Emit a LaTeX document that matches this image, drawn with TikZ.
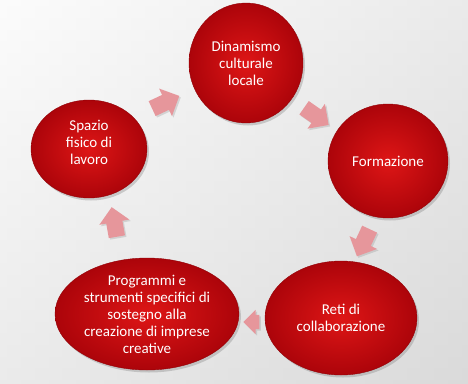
\documentclass[tikz,border=0pt]{standalone}
\usepackage{fontspec}
\setmainfont{Carlito}
\usetikzlibrary{shapes.geometric,shapes.arrows,shadows}
\definecolor{bgA}{RGB}{248,248,248}
\definecolor{bgB}{RGB}{214,214,214}
\definecolor{redIn}{RGB}{222,22,22}
\definecolor{redOut}{RGB}{172,4,10}
\definecolor{arrowPink}{RGB}{230,150,155}
\tikzset{
  bubble/.style={ellipse, inner sep=0pt, draw=redOut!85!black, line width=0.4pt,
    inner color=redIn, outer color=redOut,
    drop shadow={opacity=0.35, shadow xshift=2pt, shadow yshift=-2.5pt}},
  btext/.style={text=white, align=center, font=\fontsize{15}{17}\selectfont, inner sep=0pt},
  cyc/.style={single arrow, draw=none, fill=arrowPink, inner xsep=0pt, inner ysep=8pt,
    single arrow head extend=7pt, minimum height=30pt,
    drop shadow={opacity=0.25, shadow xshift=1.5pt, shadow yshift=-1.5pt}}
}
\begin{document}
\begin{tikzpicture}[x=1pt,y=-1pt]
\useasboundingbox (0,0) rectangle (468,383);
\shade[left color=bgA, right color=bgB] (0,0) rectangle (468,383);
\shade[top color=white, bottom color=bgB!80!white, opacity=0.5] (0,0) rectangle (468,383);

\node[bubble, minimum width=114pt, minimum height=120pt] (dyn) at (246,63) {};
\node[bubble, minimum width=120pt, minimum height=114pt] (form) at (388,161) {};
\node[bubble, minimum width=152pt, minimum height=114pt] (reti) at (341,318) {};
\node[bubble, minimum width=184pt, minimum height=112pt] (prog) at (147,314) {};
\node[bubble, minimum width=116pt, minimum height=98pt] (spaz) at (89,149) {};

\node[btext] (tdyn) at (dyn.center) {Dinamismo\\culturale\\locale};
\node[btext] (tform) at (form.center) {Formazione};
\node[btext] (treti) at (reti.center) {Reti di\\collaborazione};
\node[btext] (tprog) at (prog.center) {Programmi e\\strumenti specifici di\\sostegno alla\\creazione di imprese\\creative};
\node[btext] (tspaz) at ([yshift=7pt]spaz.center) {Spazio\\fisico di\\lavoro};

\node[cyc, rotate=25] (a1) at (162,104) {};
\node[cyc, rotate=-35] (a2) at (313,114) {};
\node[cyc, rotate=-115] (a3) at (365,239) {};
\node[cyc, rotate=180, minimum height=16pt, inner ysep=7pt, single arrow head extend=5pt] (a4) at (255,322) {};
\node[cyc, rotate=100] (a5) at (115,226) {};
\end{tikzpicture}
\end{document}
